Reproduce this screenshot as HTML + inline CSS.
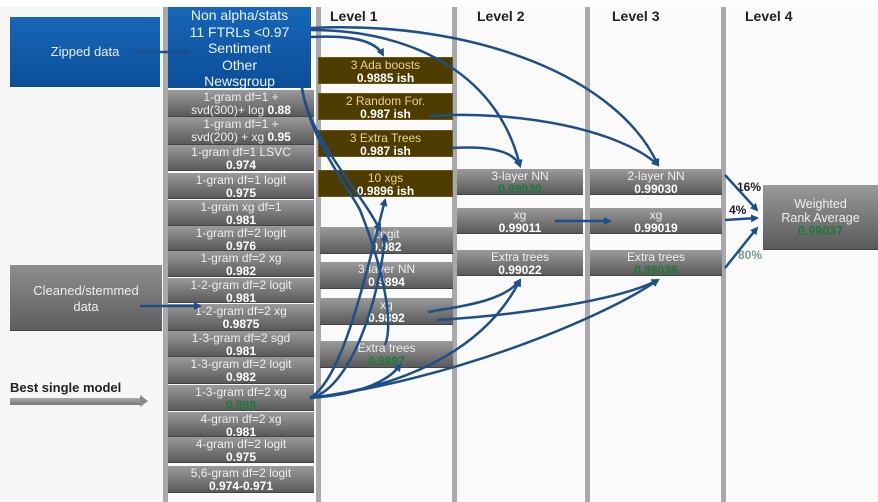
<!DOCTYPE html><html><head><style>
body{margin:0;width:878px;height:502px;background:#f6f6f6;font-family:"Liberation Sans",sans-serif;overflow:hidden;position:relative}
.a{position:absolute;box-sizing:border-box;text-align:center;font-size:12px;line-height:12.5px}
.b{background:linear-gradient(#1766b8,#0b4e98);color:#eaf2ff;font-size:14px;line-height:16.5px}
.g{background:linear-gradient(#9a9a9a,#5a5a5a);color:#eee;padding-top:1px;border-bottom:1px solid #444}
.g b,.o b{color:#fff}
.o{background:#4f3c00;color:#e8d68a;border:1px solid #6b5a10;padding-top:1px}
.gr{color:#1f7a3a!important}
.col{position:absolute;top:7px;bottom:0;background:#fafafa}
.sep{position:absolute;top:7px;bottom:0;width:5px;background:#a9a9a9}
.h{position:absolute;top:8px;font-weight:bold;font-size:14px;color:#222}
</style></head><body>
<div style="position:absolute;left:0;top:0;width:878px;height:7px;background:#fff"></div>
<div class="col" style="left:168px;width:150px"></div>
<div class="col" style="left:322px;width:130px"></div>
<div class="col" style="left:459px;width:126px"></div>
<div class="col" style="left:590px;width:132px"></div>
<div class="col" style="left:726px;width:152px"></div>
<div class="sep" style="left:163px"></div><div class="sep" style="left:316px"></div><div class="sep" style="left:452px"></div><div class="sep" style="left:585px"></div><div class="sep" style="left:721px"></div>
<div class="h" style="left:330px">Level 1</div><div class="h" style="left:477px">Level 2</div><div class="h" style="left:612px">Level 3</div><div class="h" style="left:745px">Level 4</div>

<div class="a b" style="left:10px;top:17px;width:150px;height:70px;line-height:70px;font-size:13px">Zipped data</div>
<div class="a b" style="left:168px;top:7px;width:143px;height:81px;padding-top:0px">Non alpha/stats<br>11 FTRLs &lt;0.97<br>Sentiment<br>Other<br>Newsgroup</div>
<div class="a g" style="left:10px;top:265px;width:152px;height:66px;padding-top:18px;font-size:13px;line-height:16px;background:linear-gradient(#8e8e8e,#5e5e5e)">Cleaned/stemmed<br>data</div>
<div style="position:absolute;left:10px;top:380px;font-size:13px;font-weight:bold;color:#222">Best single model</div>
<div style="position:absolute;left:10px;top:398px;width:130px;height:7px;background:linear-gradient(#aaa,#777)"></div>
<div style="position:absolute;left:140px;top:395px;border-left:8px solid #888;border-top:6px solid transparent;border-bottom:6px solid transparent"></div>

<div class="a g" style="left:168px;top:90px;width:146px;height:27px">1-gram df=1 +<br>svd(300)+ log <b>0.88</b></div>
<div class="a g" style="left:168px;top:117px;width:146px;height:28px">1-gram df=1 +<br>svd(200) + xg <b>0.95</b></div>
<div class="a g" style="left:168px;top:145px;width:146px;height:26px">1-gram df=1 LSVC<br><b>0.974</b></div>
<div class="a g" style="left:168px;top:173px;width:146px;height:26px">1-gram df=1 logit<br><b>0.975</b></div>
<div class="a g" style="left:168px;top:200px;width:146px;height:26px">1-gram xg df=1<br><b>0.981</b></div>
<div class="a g" style="left:168px;top:226px;width:146px;height:25px">1-gram df=2 logit<br><b>0.976</b></div>
<div class="a g" style="left:168px;top:251px;width:146px;height:26px">1-gram df=2 xg<br><b>0.982</b></div>
<div class="a g" style="left:168px;top:278px;width:146px;height:25px">1-2-gram df=2 logit<br><b>0.981</b></div>
<div class="a g" style="left:168px;top:304px;width:146px;height:27px">1-2-gram df=2 xg<br><b>0.9875</b></div>
<div class="a g" style="left:168px;top:331px;width:146px;height:26px">1-3-gram df=2 sgd<br><b>0.981</b></div>
<div class="a g" style="left:168px;top:357px;width:146px;height:27px">1-3-gram df=2 logit<br><b>0.982</b></div>
<div class="a g" style="left:168px;top:385px;width:146px;height:26px">1-3-gram df=2 xg<br><b class="gr">0.988</b></div>
<div class="a g" style="left:168px;top:412px;width:146px;height:25px">4-gram df=2 xg<br><b>0.981</b></div>
<div class="a g" style="left:168px;top:437px;width:146px;height:26px">4-gram df=2 logit<br><b>0.975</b></div>
<div class="a g" style="left:168px;top:466px;width:146px;height:27px">5,6-gram df=2 logit<br><b>0.974-0.971</b></div>

<div class="a o" style="left:318px;top:57px;width:135px;height:27px">3 Ada boosts<br><b>0.9885 ish</b></div>
<div class="a o" style="left:318px;top:93px;width:135px;height:27px">2 Random For.<br><b>0.987 ish</b></div>
<div class="a o" style="left:318px;top:130px;width:135px;height:27px">3 Extra Trees<br><b>0.987 ish</b></div>
<div class="a o" style="left:318px;top:170px;width:135px;height:27px">10 xgs<br><b>0.9896 ish</b></div>
<div class="a g" style="left:320px;top:227px;width:133px;height:27px">Logit<br><b>0.982</b></div>
<div class="a g" style="left:320px;top:262px;width:133px;height:27px">3-layer NN<br><b>0.9894</b></div>
<div class="a g" style="left:320px;top:298px;width:133px;height:27px">xg<br><b>0.9892</b></div>
<div class="a g" style="left:320px;top:341px;width:133px;height:27px">Extra trees<br><b class="gr">0.9897</b></div>

<div class="a g" style="left:457px;top:169px;width:126px;height:26px">3-layer NN<br><b class="gr">0.99030</b></div>
<div class="a g" style="left:457px;top:208px;width:126px;height:26px">xg<br><b>0.99011</b></div>
<div class="a g" style="left:457px;top:250px;width:126px;height:26px">Extra trees<br><b>0.99022</b></div>
<div class="a g" style="left:590px;top:169px;width:132px;height:26px">2-layer NN<br><b>0.99030</b></div>
<div class="a g" style="left:590px;top:208px;width:132px;height:26px">xg<br><b>0.99019</b></div>
<div class="a g" style="left:590px;top:250px;width:132px;height:26px">Extra trees<br><b class="gr">0.99036</b></div>
<div class="a g" style="left:763px;top:185px;width:115px;height:65px;padding-top:13px;font-size:12.5px;line-height:13.5px">Weighted<br>Rank Average<br><b class="gr">0.99037</b></div>
<div style="position:absolute;left:737px;top:180px;font-size:12px;font-weight:bold;color:#222">16%</div>
<div style="position:absolute;left:729px;top:203px;font-size:12px;font-weight:bold;color:#222">4%</div>
<div style="position:absolute;left:738px;top:248px;font-size:12px;font-weight:bold;color:#7a9a8a">80%</div>

<svg width="878" height="502" style="position:absolute;left:0;top:0" fill="none" stroke="#1d4f8c" stroke-width="2.5">
<defs><marker id="m" markerWidth="8" markerHeight="8" refX="6" refY="4" orient="auto" markerUnits="userSpaceOnUse"><path d="M0,0L8,4L0,8z" fill="#1d4f8c" stroke="none"/></marker></defs>
<path d="M135,52H190" marker-end="url(#m)"/>
<path d="M140,306H200" marker-end="url(#m)"/>
<path d="M311,37C350,35 375,40 383,55" marker-end="url(#m)"/>
<path d="M311,30C420,30 500,80 520,166" marker-end="url(#m)"/>
<path d="M311,28C480,20 620,80 658,165" marker-end="url(#m)"/>
<path d="M430,116C520,110 620,130 658,165" marker-end="url(#m)"/>
<path d="M452,148C500,145 515,155 520,166" marker-end="url(#m)"/>
<path d="M302,88C310,140 350,190 360,210C380,260 395,320 385,345"/>
<path d="M302,88C310,140 360,190 380,230" marker-end="url(#m)"/>
<path d="M310,398C340,380 360,300 385,200" marker-end="url(#m)"/>
<path d="M310,398C350,390 380,300 385,235" marker-end="url(#m)"/>
<path d="M310,398C360,395 390,380 400,365" marker-end="url(#m)"/>
<path d="M310,398C420,385 490,340 520,280" marker-end="url(#m)"/>
<path d="M310,398C450,380 600,320 658,280" marker-end="url(#m)"/>
<path d="M428,312C470,305 505,300 520,280" marker-end="url(#m)"/>
<path d="M437,320C520,315 620,300 658,280" marker-end="url(#m)"/>
<path d="M555,221H610" marker-end="url(#m)"/>
<path d="M725,175L757,210" marker-end="url(#m)"/>
<path d="M725,220L757,218" marker-end="url(#m)"/>
<path d="M725,268L757,228" marker-end="url(#m)"/>
</svg>
</body></html>
